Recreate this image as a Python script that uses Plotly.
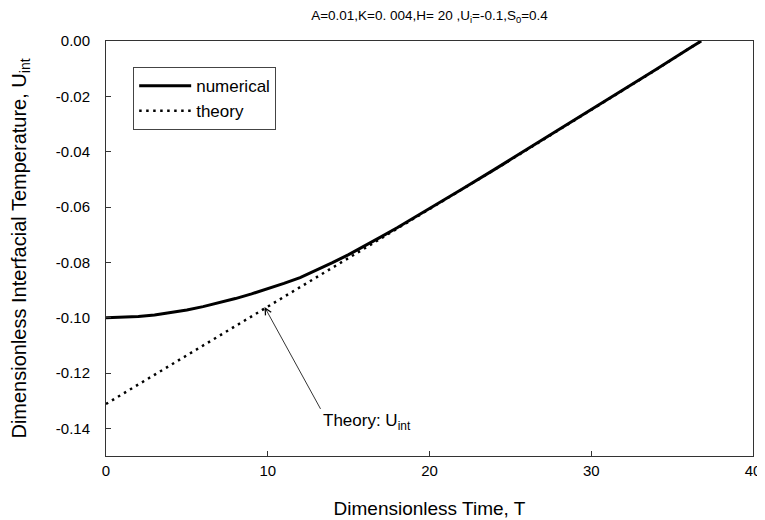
import plotly.graph_objects as go

# ---- data ----
t_theory = [0, 2, 4, 6, 8, 10, 12, 14, 16, 18, 20, 22, 24, 26, 28, 30, 32, 34, 36, 36.8]
u_theory = [-0.1312, -0.1242, -0.1171, -0.1101, -0.1030, -0.0960, -0.0890, -0.0819,
            -0.0749, -0.0678, -0.0608, -0.0537, -0.0466, -0.0394, -0.0322, -0.0250,
            -0.0177, -0.0104, -0.0029, 0.0000]

t_num = [0, 1, 2, 3, 4, 5, 6, 7, 8, 9, 10, 11, 12, 13, 14, 15, 16, 17, 18, 19, 20,
         22, 24, 26, 28, 30, 32, 34, 36, 36.8]
u_num = [-0.1000, -0.0999, -0.0996, -0.0990, -0.0982, -0.0972, -0.0960, -0.0946,
         -0.0931, -0.0914, -0.0896, -0.0876, -0.0855, -0.0829, -0.0801, -0.0772,
         -0.0741, -0.0708, -0.0675, -0.0641, -0.0607, -0.0536, -0.0465, -0.0393,
         -0.0321, -0.0249, -0.0176, -0.0103, -0.0029, 0.0000]

x_ticks = [0, 10, 20, 30, 40]
y_ticks = [0.00, -0.02, -0.04, -0.06, -0.08, -0.10, -0.12, -0.14]
y_tick_labels = ["0.00", "-0.02", "-0.04", "-0.06", "-0.08", "-0.10", "-0.12", "-0.14"]

arrow_t = 9.8
arrow_u = -0.0961

FONT = "Liberation Sans, Arial, sans-serif"

# the page body has an 8px margin, so the figure is sized to fit the window
W, H = 757, 512

fig = go.Figure()
fig.add_trace(go.Scatter(x=t_num, y=u_num, mode="lines", name="numerical",
                         line=dict(color="black", width=3)))
fig.add_trace(go.Scatter(x=t_theory, y=u_theory, mode="lines", name="theory",
                         line=dict(color="black", width=2.5, dash="2.5px,4.5px")))

fig.add_annotation(x=arrow_t, y=arrow_u, xref="x", yref="y",
                   text="Theory: U<sub>int</sub>", showarrow=True,
                   ax=56, ay=102, xanchor="left", yanchor="top",
                   arrowhead=5, arrowsize=1.6, arrowwidth=0.8, arrowcolor="black",
                   font=dict(family=FONT, size=17, color="black"))

fig.update_layout(
    width=W, height=H,
    margin=dict(l=98, r=12, t=33, b=64, autoexpand=False),
    paper_bgcolor="white", plot_bgcolor="white",
    font=dict(family=FONT, size=15, color="black"),
    title=dict(text="A=0.01,K=0. 004,H= 20 ,U<sub>i</sub>=-0.1,S<sub>0</sub>=0.4",
               x=0.5, xref="paper", y=1 - 7 / H, yref="container",
               xanchor="center", yanchor="middle",
               font=dict(family=FONT, size=13.5, color="black")),
    showlegend=True,
    legend=dict(x=0.042, y=0.937, xanchor="left", yanchor="top",
                bordercolor="#444", borderwidth=1, bgcolor="white",
                font=dict(family=FONT, size=17, color="black"),
                itemwidth=52, tracegroupgap=0),
    xaxis=dict(range=[0, 40], tickvals=x_ticks, ticks="inside", ticklen=5,
               tickcolor="#333", showline=True, linecolor="#333", linewidth=1,
               mirror=True, showgrid=False, zeroline=False, automargin=False,
               ticklabelstandoff=1,
               tickfont=dict(family=FONT, size=15, color="black"),
               title=dict(text="Dimensionless Time, T", standoff=23,
                          font=dict(family=FONT, size=19, color="black"))),
    yaxis=dict(range=[-0.15, 0.0], tickvals=y_ticks, ticktext=y_tick_labels,
               ticks="inside", ticklen=5, tickcolor="#333",
               showline=True, linecolor="#333", linewidth=1, mirror=True,
               showgrid=False, zeroline=False, automargin=False,
               ticklabelstandoff=12,
               tickfont=dict(family=FONT, size=15, color="black"),
               title=dict(text="Dimensionless Interfacial Temperature, U<sub>int</sub>",
                          standoff=30,
                          font=dict(family=FONT, size=20, color="black"))),
)

fig.write_html("out.html")
